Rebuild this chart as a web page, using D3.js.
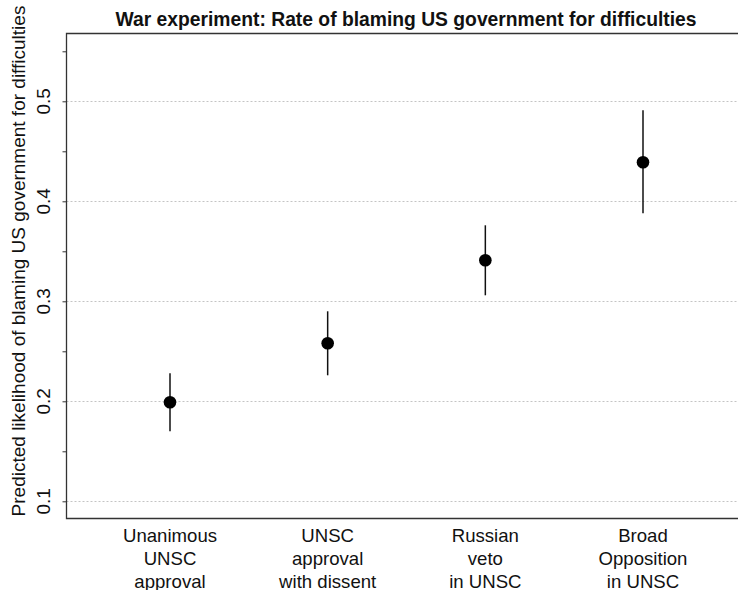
<!DOCTYPE html>
<html>
<head>
<meta charset="utf-8">
<script src="https://cdnjs.cloudflare.com/ajax/libs/d3/7.8.5/d3.min.js"></script>
<style>
  body { margin: 0; background: #fff; }
  svg { display: block; font-family: "Liberation Sans", Arial, sans-serif; }
</style>
</head>
<body>
<svg id="chart" width="738" height="590"></svg>
<script>
// data
var conditions = [
  ["Unanimous", "UNSC", "approval"],
  ["UNSC", "approval", "with dissent"],
  ["Russian", "veto", "in UNSC"],
  ["Broad", "Opposition", "in UNSC"]
];
var estimates = [0.199, 0.258, 0.341, 0.439];
var lowerCI = [0.170, 0.226, 0.306, 0.388];
var upperCI = [0.228, 0.290, 0.376, 0.491];
var yTicks = [0.1, 0.15, 0.2, 0.25, 0.3, 0.35, 0.4, 0.45, 0.5, 0.55];
var yLabels = [0.1, 0.2, 0.3, 0.4, 0.5];

var svg = d3.select("#chart"),
    width = +svg.attr("width"),
    height = +svg.attr("height");

var plotLeft = 66.5, plotTop = 33.5, plotBottom = 518.5;

var x = d3.scaleLinear()
  .domain([1, 4])
  .range([170, 643]);

var y = d3.scaleLinear()
  .domain([0.1, 0.5])
  .range([501.3, 101.3]);

// dotted grid
svg.append("g")
  .selectAll("line")
  .data(yLabels).enter()
  .append("line")
  .attr("x1", plotLeft)
  .attr("x2", width)
  .attr("y1", function(d) { return Math.round(y(d)) + 0.5; })
  .attr("y2", function(d) { return Math.round(y(d)) + 0.5; })
  .attr("stroke", "#c4c4c4")
  .attr("stroke-width", 1)
  .attr("stroke-dasharray", "2,2");

// box (left, top, bottom)
svg.append("path")
  .attr("d", "M" + width + "," + plotTop + "H" + plotLeft + "V" + plotBottom + "H" + width)
  .attr("fill", "none")
  .attr("stroke", "#333")
  .attr("stroke-width", 1.3);

// y axis
var yAxis = svg.append("g")
  .attr("transform", "translate(" + plotLeft + ",0)")
  .call(d3.axisLeft(y).tickValues(yTicks).tickSize(4).tickFormat(""));
yAxis.select(".domain").remove();
yAxis.selectAll("line").attr("stroke", "#333");

svg.append("g")
  .selectAll("text")
  .data(yLabels).enter()
  .append("text")
  .attr("transform", function(d) { return "translate(50," + y(d) + ") rotate(-90)"; })
  .attr("text-anchor", "middle")
  .attr("font-size", 19)
  .attr("fill", "#111")
  .text(function(d) { return d3.format(".1f")(d); });

// x labels
var xl = svg.append("g")
  .selectAll("text")
  .data(conditions).enter()
  .append("text")
  .attr("text-anchor", "middle")
  .attr("font-size", 18.6)
  .attr("fill", "#111");
xl.selectAll("tspan")
  .data(function(d, i) { return d.map(function(t) { return { t: t, i: i }; }); })
  .enter().append("tspan")
  .attr("x", function(d) { return x(d.i + 1); })
  .attr("y", function(d, j) { return 541.7 + j * 23.2; })
  .text(function(d) { return d.t; });

// intervals
svg.append("g")
  .selectAll("line")
  .data(estimates).enter()
  .append("line")
  .attr("x1", function(d, i) { return x(i + 1); })
  .attr("x2", function(d, i) { return x(i + 1); })
  .attr("y1", function(d, i) { return y(lowerCI[i]); })
  .attr("y2", function(d, i) { return y(upperCI[i]); })
  .attr("stroke", "#111")
  .attr("stroke-width", 1.5);

// points
svg.append("g")
  .selectAll("circle")
  .data(estimates).enter()
  .append("circle")
  .attr("cx", function(d, i) { return x(i + 1); })
  .attr("cy", function(d) { return y(d); })
  .attr("r", 6.3)
  .attr("fill", "black");

// title
svg.append("text")
  .attr("x", 406)
  .attr("y", 26)
  .attr("text-anchor", "middle")
  .attr("font-size", 19.3)
  .attr("font-weight", "bold")
  .attr("fill", "#111")
  .text("War experiment: Rate of blaming US government for difficulties");

// y axis title
svg.append("text")
  .attr("transform", "translate(25,261) rotate(-90)")
  .attr("text-anchor", "middle")
  .attr("font-size", 19)
  .attr("fill", "#111")
  .text("Predicted likelihood of blaming US government for difficulties");
</script>
</body>
</html>
